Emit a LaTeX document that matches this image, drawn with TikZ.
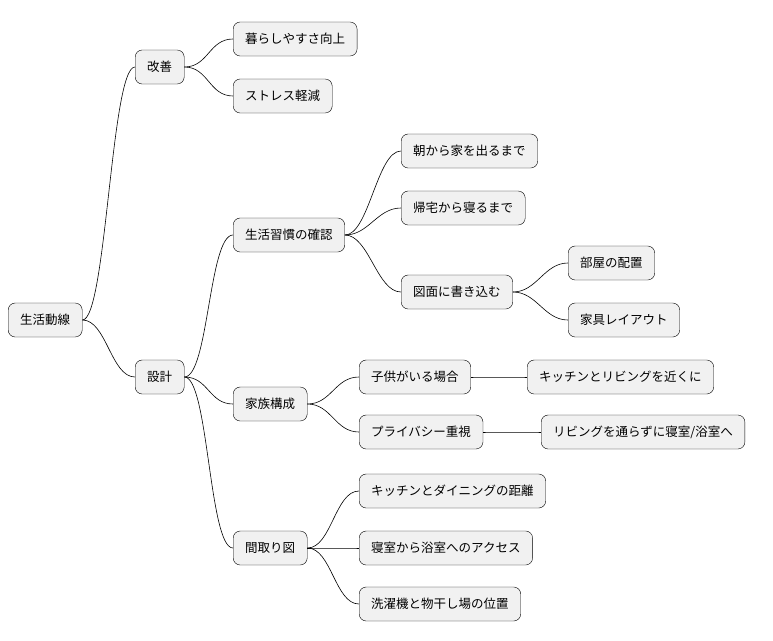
\documentclass[tikz,border=0pt]{standalone}
\usepackage{fontspec}
\setmainfont{Noto Sans CJK JP}
\definecolor{boxfill}{HTML}{F1F1F1}
\tikzset{
  topic/.style={draw=black,fill=boxfill,rounded corners=7pt,anchor=west,
    minimum height=34pt,inner xsep=12pt,font=\fontsize{12.5pt}{14pt}\selectfont},
  branch/.style={draw=black,line width=.6pt}
}
\begin{document}
\begin{tikzpicture}[x=1pt,y=-1pt]
\useasboundingbox (0,0) rectangle (773,640);
\node[topic] at (8,320)(root){生活動線};
\node[topic] at (135,67)(kaizen){改善};
\node[topic] at (135,377)(sekkei){設計};
\node[topic] at (233,39)(kurashi){暮らしやすさ向上};
\node[topic] at (233,96)(stress){ストレス軽減};
\node[topic] at (233,235)(shukan){生活習慣の確認};
\node[topic] at (233,404)(kazoku){家族構成};
\node[topic] at (233,548)(madori){間取り図};
\node[topic] at (401,151)(asa){朝から家を出るまで};
\node[topic] at (401,208)(kitaku){帰宅から寝るまで};
\node[topic] at (401,292)(zumen){図面に書き込む};
\node[topic] at (568,263)(heya){部屋の配置};
\node[topic] at (568,320)(kagu){家具レイアウト};
\node[topic] at (359,377)(kodomo){子供がいる場合};
\node[topic] at (359,432)(privacy){プライバシー重視};
\node[topic] at (527,377)(kitchen){キッチンとリビングを近くに};
\node[topic] at (541,432)(living){リビングを通らずに寝室/浴室へ};
\node[topic] at (359,491)(dining){キッチンとダイニングの距離};
\node[topic] at (359,548)(access){寝室から浴室へのアクセス};
\node[topic] at (359,604)(sentaku){洗濯機と物干し場の位置};

\foreach \a/\b in {root/kaizen,root/sekkei,kaizen/kurashi,kaizen/stress,
  sekkei/shukan,sekkei/kazoku,sekkei/madori,shukan/asa,shukan/kitaku,shukan/zumen,
  zumen/heya,zumen/kagu,kazoku/kodomo,kazoku/privacy,kodomo/kitchen,privacy/living,
  madori/dining,madori/access,madori/sentaku}{
  \draw[branch] (\a.east) .. controls ([xshift=24pt]\a.east) and ([xshift=-24pt]\b.west) .. (\b.west);
}
\end{tikzpicture}
\end{document}
